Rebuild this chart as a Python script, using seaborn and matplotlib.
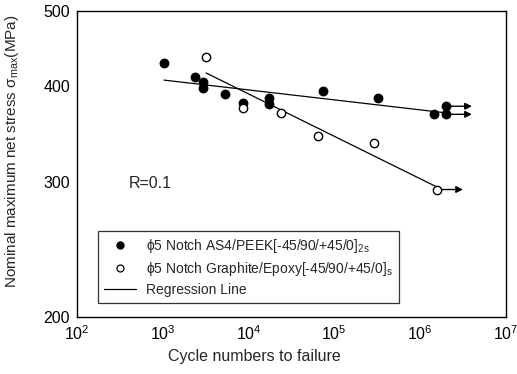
import numpy as np
import pandas as pd
import matplotlib
matplotlib.use("Agg")
import matplotlib.pyplot as plt
from matplotlib.lines import Line2D
from matplotlib.ticker import FixedLocator, FixedFormatter, NullLocator
import seaborn as sns

# Fatigue data: cycles to failure and nominal max net stress (MPa)
peek_cycles = [1035, 2380, 2950, 2950, 5330, 8650, 17400, 17400, 74000, 325000, 1.47e6, 2.02e6, 2.02e6]
peek_stress = [428, 410, 404, 397, 390, 380, 385, 378, 393, 385, 367, 376, 367]
peek_runout = [False] * 11 + [True, True]

epoxy_cycles = [3200, 8650, 24000, 64900, 292000, 1.59e6]
epoxy_stress = [436, 374, 369, 344, 337, 293]
epoxy_runout = [False] * 5 + [True]

peek_label = r"ϕ5 Notch AS4/PEEK[-45/90/+45/0]$_{\mathrm{2s}}$"
epoxy_label = r"ϕ5 Notch Graphite/Epoxy[-45/90/+45/0]$_{\mathrm{s}}$"
line_label = "Regression Line"

x_ticks = [1e2, 1e3, 1e4, 1e5, 1e6, 1e7]
y_ticks = [200, 300, 400, 500]
y_tick_labels = ["200", "300", "400", "500"]

sns.set_theme(style="white")
plt.rcParams["font.family"] = ["Liberation Sans", "DejaVu Sans"]
plt.rcParams["mathtext.fontset"] = "custom"
plt.rcParams["mathtext.rm"] = "Liberation Sans"
plt.rcParams["mathtext.it"] = "Liberation Sans:italic"
plt.rcParams["mathtext.bf"] = "Liberation Sans:bold"

df = pd.concat([
    pd.DataFrame({"cycles": peek_cycles, "stress": peek_stress,
                  "runout": peek_runout, "series": "peek"}),
    pd.DataFrame({"cycles": epoxy_cycles, "stress": epoxy_stress,
                  "runout": epoxy_runout, "series": "epoxy"}),
], ignore_index=True)

fig = plt.figure(figsize=(5.17, 3.74), dpi=100)
ax = fig.add_axes([0.149, 0.1524, 0.829, 0.818])
ax.set_xscale("log")
ax.set_yscale("log")

# Log-log regression line for each series, spanning its data range
for name in ["peek", "epoxy"]:
    sub = df[df.series == name]
    lx, ly = np.log10(sub.cycles), np.log10(sub.stress)
    slope, icpt = np.polyfit(lx, ly, 1)
    xs = np.array([lx.min(), lx.max()])
    fit = pd.DataFrame({"cycles": 10 ** xs, "stress": 10 ** (icpt + slope * xs)})
    sns.lineplot(data=fit, x="cycles", y="stress", ax=ax, color="black",
                 lw=0.9, zorder=2, legend=False)

# Run-out arrows (specimens that did not fail)
for _, r in df[df.runout].iterrows():
    ax.annotate("", xy=(r.cycles * 2.0, r.stress), xytext=(r.cycles, r.stress),
                arrowprops=dict(arrowstyle="-|>", color="black", lw=1.0,
                                mutation_scale=10, shrinkA=0, shrinkB=0),
                zorder=3)

sns.scatterplot(data=df[df.series == "peek"], x="cycles", y="stress", ax=ax,
                marker="o", s=42, color="black", edgecolor="black",
                linewidth=0.6, zorder=4, legend=False)
sns.scatterplot(data=df[df.series == "epoxy"], x="cycles", y="stress", ax=ax,
                marker="o", s=36, facecolor="white", edgecolor="black",
                linewidth=1.0, zorder=4, legend=False)

ax.set_xlim(1e2, 1e7)
ax.set_ylim(200, 500)
ax.xaxis.set_major_locator(FixedLocator(x_ticks))
ax.yaxis.set_major_locator(FixedLocator(y_ticks))
ax.yaxis.set_major_formatter(FixedFormatter(y_tick_labels))
ax.yaxis.set_minor_locator(NullLocator())
ax.tick_params(axis="x", which="major", direction="in", length=4, width=0.8,
               labelsize=11.5, pad=5, colors="black")
ax.tick_params(axis="x", which="minor", direction="in", length=2.5, width=0.6)
ax.tick_params(axis="y", which="major", direction="in", length=3, width=0.8,
               labelsize=11.5, pad=5, colors="black")
for sp in ax.spines.values():
    sp.set_color("black")
    sp.set_linewidth(1.0)

ax.set_xlabel("Cycle numbers to failure", fontsize=11.5)
ax.xaxis.set_label_coords(0.413, -0.105)
ax.set_ylabel(r"Nominal maximum net stress σ$_{\mathrm{max}}$(MPa)", fontsize=11)
ax.yaxis.set_label_coords(-0.13, 0.542)

ax.text(0.171, 0.435, "R=0.1", transform=ax.transAxes, fontsize=11.5,
        ha="center", va="center")

handles = [
    Line2D([], [], ls="none", marker="o", markersize=5, color="black"),
    Line2D([], [], ls="none", marker="o", markersize=5, markerfacecolor="white",
           markeredgecolor="black", markeredgewidth=0.9),
    Line2D([], [], color="black", lw=0.9),
]
leg = ax.legend(handles, [peek_label, epoxy_label, line_label],
                loc="lower left", bbox_to_anchor=(0.049, 0.046), fontsize=10,
                frameon=True, fancybox=False, edgecolor="black",
                handlelength=2.3, handletextpad=0.7, borderpad=0.45,
                labelspacing=0.35, borderaxespad=0)
leg.get_frame().set_linewidth(0.9)

fig.savefig("out.png", dpi=100)
